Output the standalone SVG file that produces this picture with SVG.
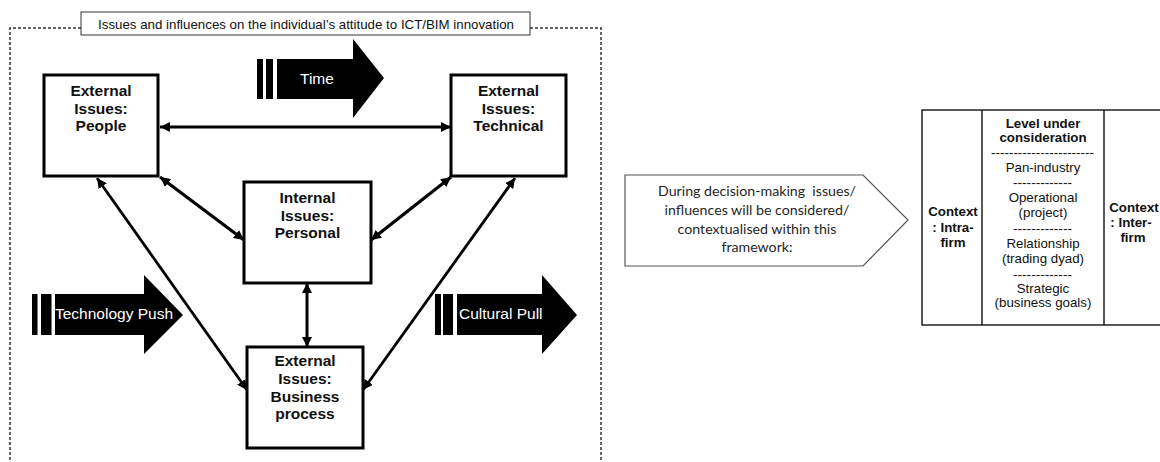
<svg xmlns="http://www.w3.org/2000/svg" width="1160" height="462" viewBox="0 0 1160 462">
<style>
.box{fill:#fff;stroke:#000;stroke-width:3}
.nt{font-family:"Liberation Sans",Arial,sans-serif;font-weight:bold;font-size:15.5px;text-anchor:middle;fill:#111}
.bt{font-family:"Liberation Sans",Arial,sans-serif;font-size:15.5px;fill:#fff}
.conn{stroke:#000;fill:none;marker-start:url(#ah);marker-end:url(#ah)}
.tb{font-family:"Liberation Sans",Arial,sans-serif;font-size:13.3px;text-anchor:middle;fill:#111}
.tbb{font-family:"Liberation Sans",Arial,sans-serif;font-size:13.3px;font-weight:bold;text-anchor:middle;fill:#111}
.pt{font-family:Lato,"Open Sans",sans-serif;font-size:14.2px;text-anchor:middle;fill:#262626}
</style>
<defs>
<marker id="ah" markerUnits="userSpaceOnUse" markerWidth="11" markerHeight="10" refX="10" refY="5" orient="auto-start-reverse" viewBox="0 0 11 10">
<path d="M0,0 L10,5 L0,10 z" fill="#000"/>
</marker>
</defs>
<rect width="1160" height="462" fill="#fff"/>

<g id="frame">
<path d="M81 28 H10 V462 M530 28 H601 V462" fill="none" stroke="#333" stroke-width="1.5" stroke-dasharray="3 2"/>
<rect x="81" y="12" width="449" height="23" fill="#fff" stroke="#333" stroke-width="1"/>
<text x="306" y="28.5" font-family="'Liberation Sans',Arial,sans-serif" font-size="13.3" text-anchor="middle" fill="#111">Issues and influences on the individual’s attitude to ICT/BIM innovation</text>
</g>

<g id="time-arrow">
<rect x="257" y="59" width="6" height="40"/>
<rect x="266" y="59" width="7" height="40"/>
<polygon points="277,59 353,59 353,39 384,78 353,118 353,99 277,99"/>
<text class="bt" x="300" y="83.5">Time</text>
</g>

<g id="tech-push-arrow">
<rect x="32" y="294" width="5.5" height="41"/>
<rect x="41" y="294" width="10.5" height="41"/>
<polygon points="55,294 144,294 144,275 183,315 144,354 144,335 55,335"/>
<text class="bt" x="55" y="319">Technology Push</text>
</g>

<g id="cultural-pull-arrow">
<rect x="435" y="294" width="6" height="41"/>
<rect x="443" y="294" width="10" height="41"/>
<polygon points="457,294 542,294 542,275 577,315 542,354 542,335 457,335"/>
<text class="bt" x="459" y="319">Cultural Pull</text>
</g>

<g id="connectors">
<line class="conn" x1="160" y1="127" x2="451" y2="127" stroke-width="3"/>
<line class="conn" x1="160" y1="177" x2="244" y2="240" stroke-width="3.2"/>
<line class="conn" x1="451" y1="177" x2="371" y2="240" stroke-width="3.2"/>
<line class="conn" x1="97" y1="178" x2="247" y2="390" stroke-width="2.8"/>
<line class="conn" x1="515" y1="178" x2="363" y2="390" stroke-width="2.8"/>
<line class="conn" x1="307" y1="283" x2="307" y2="347" stroke-width="3"/>
</g>

<g id="node-people">
<rect class="box" x="44" y="75" width="114" height="101"/>
<text class="nt" x="101" y="96">External</text>
<text class="nt" x="101" y="113.5">Issues:</text>
<text class="nt" x="101" y="131">People</text>
</g>

<g id="node-technical">
<rect class="box" x="451" y="75" width="115" height="101"/>
<text class="nt" x="508.5" y="96">External</text>
<text class="nt" x="508.5" y="113.5">Issues:</text>
<text class="nt" x="508.5" y="131">Technical</text>
</g>

<g id="node-personal">
<rect class="box" x="244" y="182" width="127" height="101"/>
<text class="nt" x="307.5" y="203">Internal</text>
<text class="nt" x="307.5" y="220.5">Issues:</text>
<text class="nt" x="307.5" y="238">Personal</text>
</g>

<g id="node-business">
<rect class="box" x="247" y="347" width="116" height="101"/>
<text class="nt" x="305" y="366">External</text>
<text class="nt" x="305" y="384">Issues:</text>
<text class="nt" x="305" y="402">Business</text>
<text class="nt" x="305" y="419">process</text>
</g>

<g id="node-decision">
<polygon points="625,175 863,175 908,220 863,266 625,266" fill="#fff" stroke="#555" stroke-width="1.2"/>
<text class="pt" x="757" y="196" xml:space="preserve">During decision-making  issues/</text>
<text class="pt" x="757" y="215">influences will be considered/</text>
<text class="pt" x="757" y="233.5">contextualised within this</text>
<text class="pt" x="757" y="252">framework:</text>
</g>

<g id="node-framework">
<rect x="922" y="110" width="250" height="215" fill="#fff" stroke="#000" stroke-width="1.3"/>
<line x1="982" y1="110" x2="982" y2="325" stroke="#000" stroke-width="1.3"/>
<line x1="1104" y1="110" x2="1104" y2="325" stroke="#000" stroke-width="1.3"/>
<text class="tbb" x="953" y="216">Context</text>
<text class="tbb" x="953" y="231.5">: Intra-</text>
<text class="tbb" x="953" y="246.5">firm</text>
<text class="tbb" x="1043" y="127.5">Level under</text>
<text class="tbb" x="1043" y="141.5">consideration</text>
<text class="tb" x="1042.5" y="157" textLength="103" lengthAdjust="spacingAndGlyphs">-----------------------</text>
<text class="tb" x="1043" y="171.5">Pan-industry</text>
<text class="tb" x="1042.5" y="187" textLength="59" lengthAdjust="spacingAndGlyphs">-------------</text>
<text class="tb" x="1043" y="202">Operational</text>
<text class="tb" x="1043" y="216.5">(project)</text>
<text class="tb" x="1042.5" y="233" textLength="59" lengthAdjust="spacingAndGlyphs">-------------</text>
<text class="tb" x="1043" y="247.5">Relationship</text>
<text class="tb" x="1043" y="262.5">(trading dyad)</text>
<text class="tb" x="1042.5" y="279" textLength="59" lengthAdjust="spacingAndGlyphs">-------------</text>
<text class="tb" x="1043" y="292.5">Strategic</text>
<text class="tb" x="1043" y="307">(business goals)</text>
<text class="tbb" x="1134" y="211.5">Context</text>
<text class="tbb" x="1131" y="226.5">: Inter-</text>
<text class="tbb" x="1133" y="241.5">firm</text>
</g>
</svg>
